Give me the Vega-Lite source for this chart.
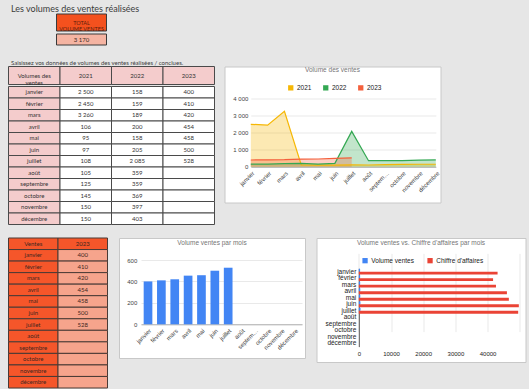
{
"$schema": "https://vega.github.io/schema/vega-lite/v6.json",
"padding": {"left": 7.5, "top": 4, "right": 2, "bottom": 2},
"background": "#e6e6e6",
"title": {"text": "Les volumes des ventes réalisées", "anchor": "start", "frame": "group", "font": "Lato", "fontSize": 9, "fontWeight": "normal", "color": "#3c3c3c", "baseline": "alphabetic", "offset": -7, "dx": 2.5},
"datasets": {
  "ventes": [
    {"mois": "janvier", "2021": 2500, "2022": 158, "2023": 400, "ca": 43100},
    {"mois": "février", "2021": 2450, "2022": 159, "2023": 410, "ca": 41700},
    {"mois": "mars", "2021": 3260, "2022": 189, "2023": 420, "ca": 42600},
    {"mois": "avril", "2021": 106, "2022": 200, "2023": 454, "ca": 46000},
    {"mois": "mai", "2021": 95, "2022": 158, "2023": 458, "ca": 46600},
    {"mois": "juin", "2021": 97, "2022": 205, "2023": 500, "ca": 49700},
    {"mois": "juillet", "2021": 108, "2022": 2085, "2023": 528, "ca": 49500},
    {"mois": "août", "2021": 105, "2022": 359, "2023": null, "ca": null},
    {"mois": "septembre", "2021": 125, "2022": 359, "2023": null, "ca": null},
    {"mois": "octobre", "2021": 145, "2022": 369, "2023": null, "ca": null},
    {"mois": "novembre", "2021": 150, "2022": 397, "2023": null, "ca": null},
    {"mois": "décembre", "2021": 150, "2022": 403, "2023": null, "ca": null}
  ],
  "total": [{"libelle": "TOTAL\nVOLUME VENTES", "valeur": 3170}],
  "entete1": [{"col": "mois", "txt": "Volumes des\nventes"}, {"col": "2021", "txt": "2021"}, {"col": "2022", "txt": "2022"}, {"col": "2023", "txt": "2023"}],
  "entete2": [{"col": "Ventes"}, {"col": "2023"}]
},
"config": {
  "view": {"stroke": null},
  "font": "Liberation Sans",
  "locale": {"number": {"decimal": ",", "thousands": " ", "grouping": [3], "currency": ["", " €"]}},
  "axis": {"labelFont": "Liberation Sans", "labelFontSize": 6, "labelColor": "#444", "ticks": false, "domain": false, "gridColor": "#e3e3e3", "gridWidth": 0.8, "labelFlush": false, "labelOverlap": false},
  "title": {"font": "Liberation Sans", "fontSize": 6.5, "fontWeight": "normal", "color": "#757575"},
  "legend": {"title": null, "orient": "none", "direction": "horizontal", "symbolType": "square", "symbolSize": 28, "symbolStrokeWidth": 0, "labelFont": "Liberation Sans", "labelFontSize": 6.5, "labelColor": "#222", "labelOffset": 3, "columnPadding": 11, "symbolOpacity": 1, "padding": 0}
},
"resolve": {"scale": {"color": "independent"}, "legend": {"color": "independent"}},
"vconcat": [
  {"vconcat": [
    {"vconcat": [
      {
        "width": 206, "height": 17,
        "data": {"name": "total"},
        "encoding": {"x": {"field": "libelle", "type": "nominal", "scale": {"range": [48, 98], "paddingInner": 0, "paddingOuter": 0}, "axis": null}},
        "layer": [
          {"mark": {"type": "rect", "fill": "#f4511e", "stroke": "#3a3a3a", "strokeWidth": 1}},
          {"mark": {"type": "text", "font": "Lato", "fontSize": 5.5, "color": "#5b1d0c", "lineBreak": "\n", "lineHeight": 6.5}, "encoding": {"text": {"field": "libelle"}}}
        ]
      },
      {
        "width": 206, "height": 11,
        "data": {"name": "total"},
        "encoding": {"x": {"field": "libelle", "type": "nominal", "scale": {"range": [48, 98], "paddingInner": 0, "paddingOuter": 0}, "axis": null}},
        "layer": [
          {"mark": {"type": "rect", "fill": "#f5b4a2", "stroke": "#3a3a3a", "strokeWidth": 1}},
          {"mark": {"type": "text", "font": "Lato", "fontSize": 6, "color": "#3c2a25"}, "encoding": {"text": {"field": "valeur", "type": "quantitative", "format": ",d"}}}
        ]
      }
    ], "spacing": 0},
    {"hconcat": [
      {"vconcat": [
        {
          "width": 206, "height": 18,
          "data": {"name": "entete1"},
          "encoding": {"x": {"field": "col", "type": "nominal", "scale": {"domain": ["mois", "2021", "2022", "2023"], "paddingInner": 0, "paddingOuter": 0}, "axis": null}},
          "layer": [
            {"mark": {"type": "rect", "fill": "#f4cccc", "stroke": "#4a4a4a", "strokeWidth": 1}},
            {"mark": {"type": "text", "font": "Lato", "fontSize": 6, "color": "#333", "lineBreak": "\n", "lineHeight": 7}, "encoding": {"text": {"field": "txt"}}}
          ]
        },
        {
          "width": 206, "height": 138,
          "data": {"name": "ventes"},
          "encoding": {"y": {"field": "mois", "type": "nominal", "scale": {"domain": ["janvier", "février", "mars", "avril", "mai", "juin", "juillet", "août", "septembre", "octobre", "novembre", "décembre"], "paddingInner": 0, "paddingOuter": 0}, "axis": null}},
          "layer": [
            {"mark": {"type": "rect", "fill": "#f4cccc", "stroke": "#4a4a4a", "strokeWidth": 1},
             "encoding": {"x": {"datum": "mois", "type": "nominal", "scale": {"domain": ["mois", "2021", "2022", "2023"], "paddingInner": 0, "paddingOuter": 0}, "axis": null}}},
            {"mark": {"type": "text", "font": "Lato", "fontSize": 6, "color": "#333"},
             "encoding": {"x": {"datum": "mois", "type": "nominal"}, "text": {"field": "mois"}}},
            {"transform": [{"fold": ["2021", "2022", "2023"], "as": ["annee", "volume"]}],
             "mark": {"type": "rect", "fill": "#ffffff", "stroke": "#4a4a4a", "strokeWidth": 1},
             "encoding": {"x": {"field": "annee", "type": "nominal"}}},
            {"transform": [{"fold": ["2021", "2022", "2023"], "as": ["annee", "volume"]}, {"filter": "datum.volume != null"}],
             "mark": {"type": "text", "font": "Lato", "fontSize": 6, "color": "#333"},
             "encoding": {"x": {"field": "annee", "type": "nominal"}, "text": {"field": "volume", "type": "quantitative", "format": ",d"}}}
          ]
        }
      ], "spacing": 0},
      {
        "width": 216, "height": 136,
        "view": {"fill": "#ffffff", "stroke": "#c8c8c8", "strokeWidth": 1},
        "title": {"text": "Volume des ventes", "baseline": "top", "offset": -6.7, "anchor": "middle", "frame": "group"},
        "data": {"name": "ventes"},
        "transform": [{"fold": ["2021", "2022", "2023"], "as": ["annee", "volume"]}],
        "mark": {"type": "area", "fillOpacity": 0.3, "line": {"strokeWidth": 1.2}, "interpolate": "linear"},
        "encoding": {
          "x": {"field": "mois", "type": "nominal", "scale": {"type": "point", "domain": ["janvier", "février", "mars", "avril", "mai", "juin", "juillet", "août", "septembre", "octobre", "novembre", "décembre"], "range": [26.3, 211.3], "padding": 0},
                "axis": {"title": null, "offset": -35.7, "labelAngle": -45, "labelPadding": 3, "domain": true, "domainColor": "#b0b0b0", "labelExpr": "datum.label == 'septembre' ? 'septem…' : datum.label"}},
          "y": {"field": "volume", "type": "quantitative", "stack": null, "scale": {"domain": [0, 4000], "range": [100.3, 32.3], "nice": false},
                "axis": {"title": null, "values": [0, 1000, 2000, 3000, 4000], "offset": -26.3, "grid": true, "labelPadding": 3}},
          "color": {"field": "annee", "type": "nominal", "scale": {"domain": ["2021", "2022", "2023"], "range": ["#f6b704", "#34a853", "#f4603c"]},
                    "legend": {"legendX": 63, "legendY": 18}}
        }
      }
    ], "spacing": 8,
       "title": {"text": "Saisissez vos données de volumes des ventes réalisées / conclues.", "anchor": "start", "frame": "group", "font": "Lato", "fontSize": 6, "color": "#3c3c3c", "baseline": "alphabetic", "offset": -5, "dx": 2.5},
       "resolve": {"scale": {"color": "independent"}, "legend": {"color": "independent"}}}
  ], "spacing": 13.5, "resolve": {"scale": {"color": "independent"}, "legend": {"color": "independent"}}},
  {"hconcat": [
    {
      "width": 99, "height": 150,
      "data": {"name": "ventes"},
      "encoding": {"y": {"field": "mois", "type": "nominal", "scale": {"domain": ["Ventes", "janvier", "février", "mars", "avril", "mai", "juin", "juillet", "août", "septembre", "octobre", "novembre", "décembre"], "paddingInner": 0, "paddingOuter": 0}, "axis": null}},
      "layer": [
        {"data": {"name": "entete2"},
         "mark": {"type": "rect", "fill": "#f5562a", "stroke": "#4a3a35", "strokeWidth": 1},
         "encoding": {"x": {"field": "col", "type": "nominal", "scale": {"domain": ["Ventes", "2023"], "paddingInner": 0, "paddingOuter": 0}, "axis": null}, "y": {"datum": "Ventes", "type": "nominal"}}},
        {"data": {"name": "entete2"},
         "mark": {"type": "text", "font": "Lato", "fontSize": 6, "color": "#3d2620"},
         "encoding": {"x": {"field": "col", "type": "nominal"}, "y": {"datum": "Ventes", "type": "nominal"}, "text": {"field": "col"}}},
        {"mark": {"type": "rect", "fill": "#f5562a", "stroke": "#4a3a35", "strokeWidth": 1},
         "encoding": {"x": {"datum": "Ventes", "type": "nominal"}}},
        {"mark": {"type": "text", "font": "Lato", "fontSize": 6, "color": "#3d2620"},
         "encoding": {"x": {"datum": "Ventes", "type": "nominal"}, "text": {"field": "mois"}}},
        {"mark": {"type": "rect", "fill": "#f6a48c", "stroke": "#4a3a35", "strokeWidth": 1},
         "encoding": {"x": {"datum": "2023", "type": "nominal"}}},
        {"transform": [{"filter": "datum['2023'] != null"}],
         "mark": {"type": "text", "font": "Lato", "fontSize": 6, "color": "#3d2620"},
         "encoding": {"x": {"datum": "2023", "type": "nominal"}, "text": {"field": "2023", "type": "quantitative", "format": ",d"}}}
      ]
    },
    {
      "width": 186, "height": 120,
      "view": {"fill": "#ffffff", "stroke": "#c8c8c8", "strokeWidth": 1},
      "title": {"text": "Volume ventes par mois", "baseline": "top", "offset": -8, "anchor": "middle", "frame": "group"},
      "data": {"name": "ventes"},
      "mark": {"type": "bar", "color": "#4285f4"},
      "encoding": {
        "x": {"field": "mois", "type": "nominal", "scale": {"domain": ["janvier", "février", "mars", "avril", "mai", "juin", "juillet", "août", "septembre", "octobre", "novembre", "décembre"], "range": [22, 183], "paddingInner": 0.35, "paddingOuter": 0.2},
              "axis": {"title": null, "offset": -33.7, "labelAngle": -45, "labelPadding": 3, "domain": true, "domainColor": "#b0b0b0", "labelExpr": "datum.label == 'septembre' ? 'septem…' : datum.label"}},
        "y": {"field": "2023", "type": "quantitative", "scale": {"domain": [0, 600], "range": [86.3, 22], "nice": false},
              "axis": {"title": null, "values": [0, 200, 400, 600], "offset": -21.8, "grid": true, "labelPadding": 4}}
      }
    },
    {
      "width": 209, "height": 124,
      "view": {"fill": "#ffffff", "stroke": "#c8c8c8", "strokeWidth": 1},
      "title": {"text": "Volume ventes  vs. Chiffre d'affaires par mois", "baseline": "top", "offset": -8.7, "anchor": "middle", "frame": "group"},
      "data": {"name": "ventes"},
      "transform": [{"fold": ["2023", "ca"], "as": ["serie", "valeur"]}],
      "mark": {"type": "bar"},
      "encoding": {
        "y": {"field": "mois", "type": "nominal", "scale": {"domain": ["janvier", "février", "mars", "avril", "mai", "juin", "juillet", "août", "septembre", "octobre", "novembre", "décembre"], "range": [30.4, 108.6], "paddingInner": 0.1, "paddingOuter": 0.05},
              "axis": {"title": null, "offset": -42.3, "labelPadding": 3, "labelFontSize": 6.5, "labelColor": "#222", "domain": true, "domainColor": "#555"}},
        "x": {"field": "valeur", "type": "quantitative", "scale": {"domain": [0, 50000], "range": [42.3, 203.3], "nice": false},
              "axis": {"title": null, "values": [0, 10000, 20000, 30000, 40000, 50000], "format": "d", "labelExpr": "datum.value == 50000 ? '' : datum.label", "offset": -15.4, "grid": true, "labelPadding": 4, "labelColor": "#222"}},
        "yOffset": {"field": "serie", "type": "nominal", "scale": {"domain": ["2023", "ca"], "paddingInner": 0}},
        "color": {"field": "serie", "type": "nominal", "scale": {"domain": ["2023", "ca"], "range": ["#4285f4", "#ea4335"]},
                  "legend": {"legendX": 45.3, "legendY": 19.3, "columnPadding": 12, "labelExpr": "datum.label == '2023' ? 'Volume ventes' : \"Chiffre d'affaires\""}}
      }
    }
  ], "spacing": 9.5, "resolve": {"scale": {"color": "independent"}, "legend": {"color": "independent"}}}
],
"spacing": 12
}
